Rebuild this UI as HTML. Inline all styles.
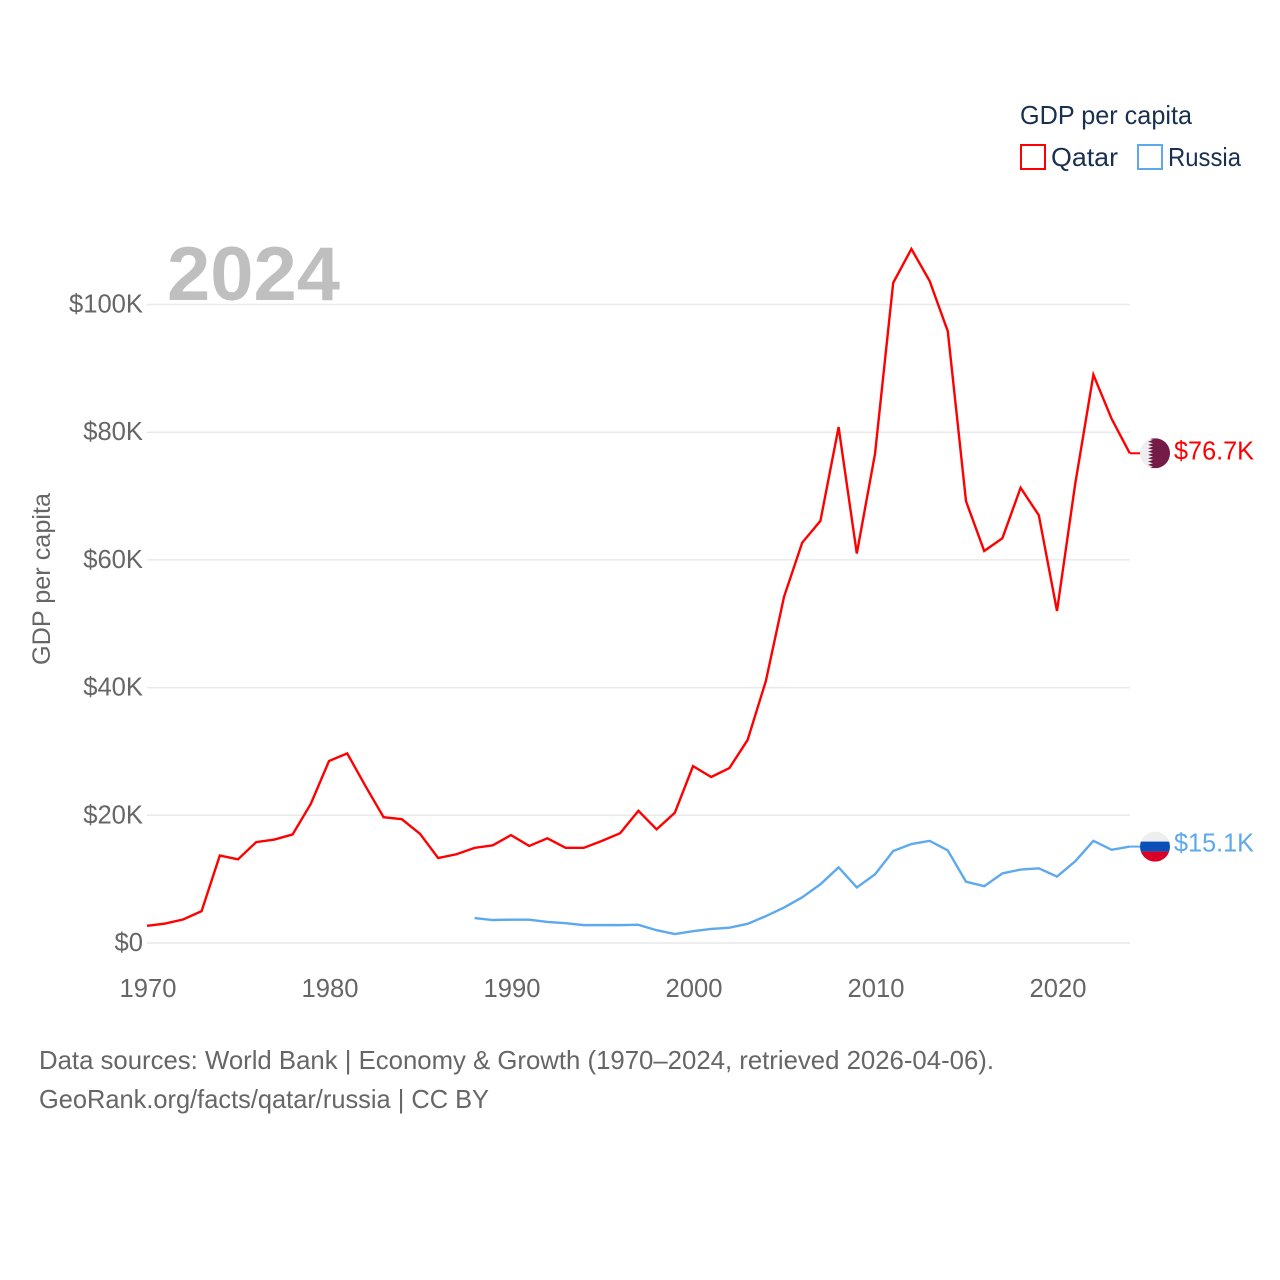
<!DOCTYPE html>
<html lang="en">
<head>
<meta charset="utf-8">
<title>GDP per capita: Qatar and Russia</title>
<style>
html,body{margin:0;padding:0;background:#fff;width:1280px;height:1280px;overflow:hidden}
svg{display:block}
text{font-family:"Liberation Sans",sans-serif}
</style>
</head>
<body>
<svg id="chart" width="1280" height="1280" viewBox="0 0 1280 1280" xmlns="http://www.w3.org/2000/svg">
  <defs>
    <clipPath id="flag-clip-qatar"><circle id="clip-qatar" r="15"></circle></clipPath>
    <clipPath id="flag-clip-russia"><circle id="clip-russia" r="15"></circle></clipPath>
  </defs>
  <g id="grid"></g>
  <g id="y-ticks"></g>
  <g id="x-ticks"></g>
  <text x="167" y="300" font-size="76" font-weight="700" fill="#bfbfbf" textLength="173" lengthAdjust="spacingAndGlyphs">2024</text>
  <text transform="translate(50,579) rotate(-90)" text-anchor="middle" font-size="25" fill="#666" textLength="172" lengthAdjust="spacingAndGlyphs">GDP per capita</text>
  <g id="series"></g>
  <g id="ends"></g>
  <g>
    <text x="1020" y="124" font-size="26" fill="#1a3050" textLength="172" lengthAdjust="spacingAndGlyphs">GDP per capita</text>
    <rect x="1021" y="145" width="24" height="24" fill="none" stroke="#ff0000" stroke-width="2"></rect>
    <text x="1051" y="166" font-size="26" fill="#1a3050" textLength="67" lengthAdjust="spacingAndGlyphs">Qatar</text>
    <rect x="1138" y="145" width="24" height="24" fill="none" stroke="#5ea9ee" stroke-width="2"></rect>
    <text x="1168" y="166" font-size="26" fill="#1a3050" textLength="73" lengthAdjust="spacingAndGlyphs">Russia</text>
  </g>
  <text x="39" y="1069" font-size="26" fill="#666" textLength="955" lengthAdjust="spacingAndGlyphs">Data sources: World Bank | Economy &amp; Growth (1970–2024, retrieved 2026-04-06).</text>
  <text x="39" y="1108" font-size="26" fill="#666" textLength="450" lengthAdjust="spacingAndGlyphs">GeoRank.org/facts/qatar/russia | CC BY</text>
</svg>
<script>
const qatarYears = [1970,1971,1972,1973,1974,1975,1976,1977,1978,1979,1980,1981,1982,1983,1984,1985,1986,1987,1988,1989,1990,1991,1992,1993,1994,1995,1996,1997,1998,1999,2000,2001,2002,2003,2004,2005,2006,2007,2008,2009,2010,2011,2012,2013,2014,2015,2016,2017,2018,2019,2020,2021,2022,2023,2024];
const qatarValues = [2.7,3.05,3.7,5.0,13.7,13.1,15.8,16.2,17.0,21.8,28.5,29.7,24.6,19.7,19.4,17.1,13.3,13.9,14.9,15.3,16.9,15.2,16.4,14.9,14.9,16.0,17.2,20.7,17.8,20.4,27.7,26.0,27.4,31.8,41.0,54.2,62.7,66.1,80.8,61.0,76.6,103.4,108.7,103.7,95.8,69.2,61.4,63.4,71.3,67.0,52.0,71.9,89.0,82.1,76.7];
const russiaYears = [1988,1989,1990,1991,1992,1993,1994,1995,1996,1997,1998,1999,2000,2001,2002,2003,2004,2005,2006,2007,2008,2009,2010,2011,2012,2013,2014,2015,2016,2017,2018,2019,2020,2021,2022,2023,2024];
const russiaValues = [3.9,3.6,3.65,3.65,3.3,3.1,2.8,2.8,2.8,2.85,2.0,1.4,1.85,2.2,2.4,3.0,4.2,5.55,7.15,9.2,11.85,8.7,10.75,14.4,15.5,16.0,14.5,9.6,8.9,10.9,11.5,11.7,10.4,12.8,16.0,14.6,15.1];
const yTickValues = [0,20,40,60,80,100];
const yTickLabels = ["$0","$20K","$40K","$60K","$80K","$100K"];
const xTickValues = [1970,1980,1990,2000,2010,2020];
const xTickLabels = ["1970","1980","1990","2000","2010","2020"];
const endLabels = ["$76.7K","$15.1K"];

const NS = "http://www.w3.org/2000/svg";
const xScale = year => 147 + (year - 1970) * 18.2;
const yScale = value => 943 - value * 6.385;
function make(tag, attrs, parent, text) {
  const el = document.createElementNS(NS, tag);
  for (const key in attrs) el.setAttribute(key, attrs[key]);
  if (text !== undefined) el.textContent = text;
  parent.appendChild(el);
  return el;
}
const grid = document.getElementById("grid");
const yTicks = document.getElementById("y-ticks");
const xTicks = document.getElementById("x-ticks");
const seriesGroup = document.getElementById("series");
const ends = document.getElementById("ends");

yTickValues.forEach((v, i) => {
  const line = make("line", {x1: 147, x2: 1130, y1: yScale(v), y2: yScale(v), stroke: "#e9e9e9", "stroke-width": 1.5}, grid);
  
  
  const label = make("text", {x: 143, y: yScale(v) + 8, "text-anchor": "end", "font-size": 25.6, fill: "#666"}, yTicks, yTickLabels[i]);
  
  
});
xTickValues.forEach((v, i) => {
  const label = make("text", {x: xScale(v) + 1, y: 997, "text-anchor": "middle", "font-size": 25.6, fill: "#666"}, xTicks, xTickLabels[i]);
  
  
});

function pointsFor(years, values) {
  return years.map((y, i) => xScale(y).toFixed(2) + "," + yScale(values[i]).toFixed(2)).join(" ");
}
const qatarLine = make("polyline", {points: pointsFor(qatarYears, qatarValues), fill: "none", stroke: "#ff0000", "stroke-width": 2.4, "stroke-linejoin": "miter"}, seriesGroup);


const russiaLine = make("polyline", {points: pointsFor(russiaYears, russiaValues), fill: "none", stroke: "#5ea9ee", "stroke-width": 2.4, "stroke-linejoin": "miter"}, seriesGroup);



/* End markers: connector, round flag, value label */
const qatarEndValue = qatarValues[qatarValues.length - 1];
const russiaEndValue = russiaValues[russiaValues.length - 1];
const qy = yScale(qatarEndValue);
const ry = yScale(russiaEndValue);
const flagX = 1155;

const qatarConnector = make("line", {x1: xScale(2024), x2: flagX - 15, y1: qy, y2: qy, stroke: "#ff0000", "stroke-width": 2}, ends);


const russiaConnector = make("line", {x1: xScale(2024), x2: flagX - 15, y1: ry, y2: ry, stroke: "#5ea9ee", "stroke-width": 2}, ends);



document.getElementById("clip-qatar").setAttribute("cx", flagX);
document.getElementById("clip-qatar").setAttribute("cy", qy);
document.getElementById("clip-russia").setAttribute("cx", flagX);
document.getElementById("clip-russia").setAttribute("cy", ry);

const qatarFlag = make("g", {"clip-path": "url(#flag-clip-qatar)"}, ends);


make("rect", {x: flagX - 15, y: qy - 15, width: 30, height: 30, fill: "#eeeeee"}, qatarFlag);
let zig = "M" + (flagX + 15) + " " + (qy - 15) + " L" + (flagX - 7) + " " + (qy - 15);
for (let i = 0; i < 9; i++) {
  const top = qy - 15 + i * 30 / 9;
  zig += " L" + (flagX - 2) + " " + (top + 15 / 9) + " L" + (flagX - 7) + " " + (top + 30 / 9);
}
zig += " L" + (flagX + 15) + " " + (qy + 15) + " Z";
make("path", {d: zig, fill: "#741b47"}, qatarFlag);

const russiaFlag = make("g", {"clip-path": "url(#flag-clip-russia)"}, ends);


make("rect", {x: flagX - 15, y: ry - 15, width: 30, height: 10, fill: "#eeeeee"}, russiaFlag);
make("rect", {x: flagX - 15, y: ry - 5, width: 30, height: 10, fill: "#0a50b8"}, russiaFlag);
make("rect", {x: flagX - 15, y: ry + 5, width: 30, height: 10, fill: "#d80027"}, russiaFlag);

const qatarValueLabel = make("text", {x: 1174, y: qy + 6, "font-size": 25.6, fill: "#ff0000", textLength: 80, lengthAdjust: "spacingAndGlyphs"}, ends, endLabels[0]);


const russiaValueLabel = make("text", {x: 1174, y: ry + 5, "font-size": 25.6, fill: "#5ea9ee", textLength: 80, lengthAdjust: "spacingAndGlyphs"}, ends, endLabels[1]);


</script>
</body>
</html>
